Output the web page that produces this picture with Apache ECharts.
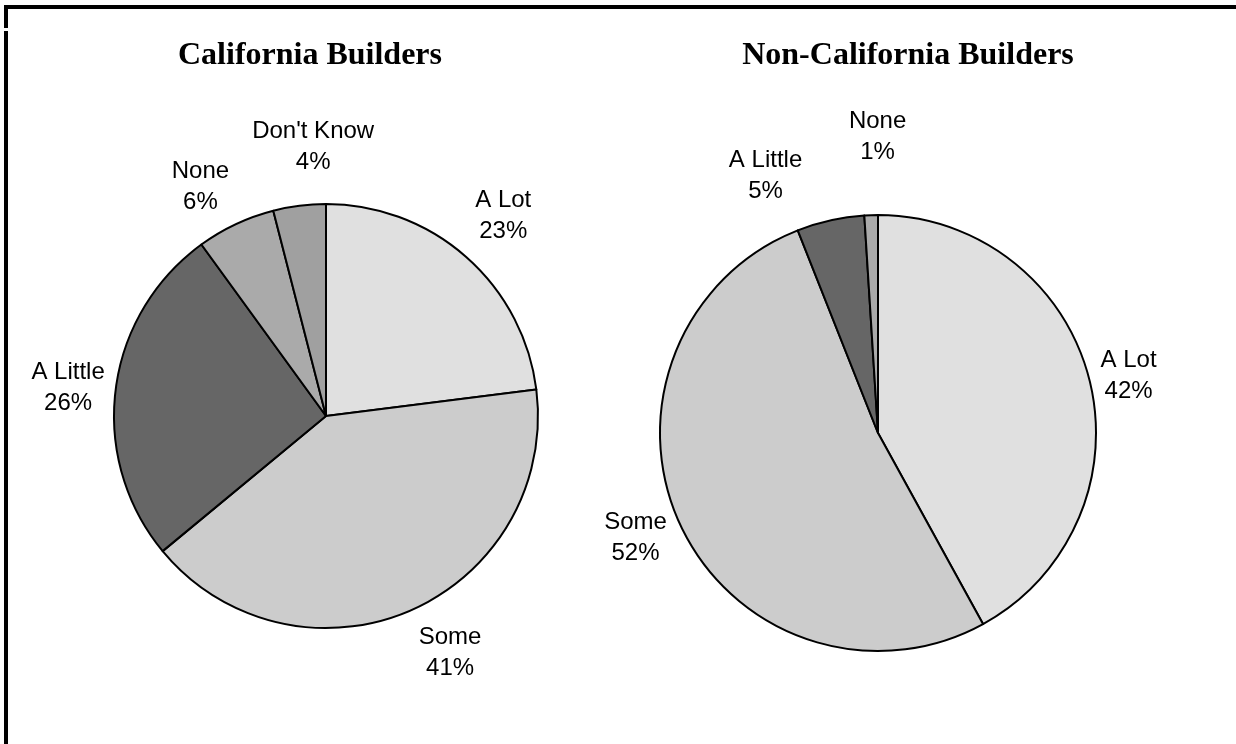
<!DOCTYPE html>
<html>
<head>
<meta charset="utf-8">
<script src="https://cdn.jsdelivr.net/npm/echarts@6/dist/echarts.min.js"></script>
<style>
  html, body { margin: 0; padding: 0; background: #fff; }
  #chart { width: 1236px; height: 744px; }
</style>
</head>
<body>
<div id="chart"></div>
<script>
// Survey answers, in percent
const categoriesCA = ['A Lot', 'Some', 'A Little', 'None', "Don't Know"];
const valuesCA = [23, 41, 26, 6, 4];
const categoriesNonCA = ['A Lot', 'Some', 'A Little', 'None'];
const valuesNonCA = [42, 52, 5, 1];
const titles = ['California Builders', 'Non-California Builders'];

// Slice fills per answer
const sliceColors = {
  'A Lot': '#e0e0e0',
  'Some': '#cccccc',
  'A Little': '#666666',
  'None': '#aaaaaa',
  "Don't Know": '#a0a0a0'
};

// Fine offsets for each label around its slice
const labelNudgeCA = [[4, -4], [20, -4], [2, 5], [-14, 8], [20, -9]];
const labelNudgeNonCA = [[-9, 10], [0, -9], [-54, 4], [8, -28]];

function buildData(names, values) {
  return names.map((n, i) => ({
    name: n,
    value: values[i],
    itemStyle: { color: sliceColors[n] }
  }));
}

function pieSeries(names, values, center, radius, nudge) {
  return {
    type: 'pie',
    center: center,
    radius: radius,
    startAngle: 90,
    clockwise: true,
    avoidLabelOverlap: false,
    animation: false,
    silent: true,
    emphasis: { disabled: true },
    itemStyle: { borderColor: '#000', borderWidth: 2 },
    label: {
      show: true,
      position: 'outside',
      formatter: '{b}\n{c}%',
      color: '#000',
      fontFamily: '"Liberation Sans", Arial, sans-serif',
      fontSize: 24,
      lineHeight: 31,
      distanceToLabelLine: 0
    },
    labelLine: { show: false, length: 50, length2: 0 },
    labelLayout: function (p) {
      const d = nudge[p.dataIndex] || [0, 0];
      return { align: 'center', verticalAlign: 'middle', dx: d[0], dy: d[1] };
    },
    data: buildData(names, values)
  };
}

const chart = echarts.init(document.getElementById('chart'), null, { renderer: 'canvas' });

const titleFont = 'bold 32px "Liberation Serif", "Times New Roman", serif';

chart.setOption({
  backgroundColor: '#ffffff',
  animation: false,
  graphic: [
    // frame lines
    { type: 'rect', shape: { x: 4, y: 5, width: 1232, height: 4 }, style: { fill: '#000' } },
    { type: 'rect', shape: { x: 4, y: 5, width: 4, height: 23 }, style: { fill: '#000' } },
    { type: 'rect', shape: { x: 4, y: 31, width: 4, height: 713 }, style: { fill: '#000' } },
    // pie titles
    { type: 'text', x: 310, y: 56, style: { text: titles[0], font: titleFont, fill: '#000', textAlign: 'center', textVerticalAlign: 'middle' } },
    { type: 'text', x: 908, y: 56, style: { text: titles[1], font: titleFont, fill: '#000', textAlign: 'center', textVerticalAlign: 'middle' } }
  ],
  series: [
    pieSeries(categoriesCA, valuesCA, [326, 416], 212, labelNudgeCA),
    pieSeries(categoriesNonCA, valuesNonCA, [878, 433], 218, labelNudgeNonCA)
  ]
});
</script>
</body>
</html>
